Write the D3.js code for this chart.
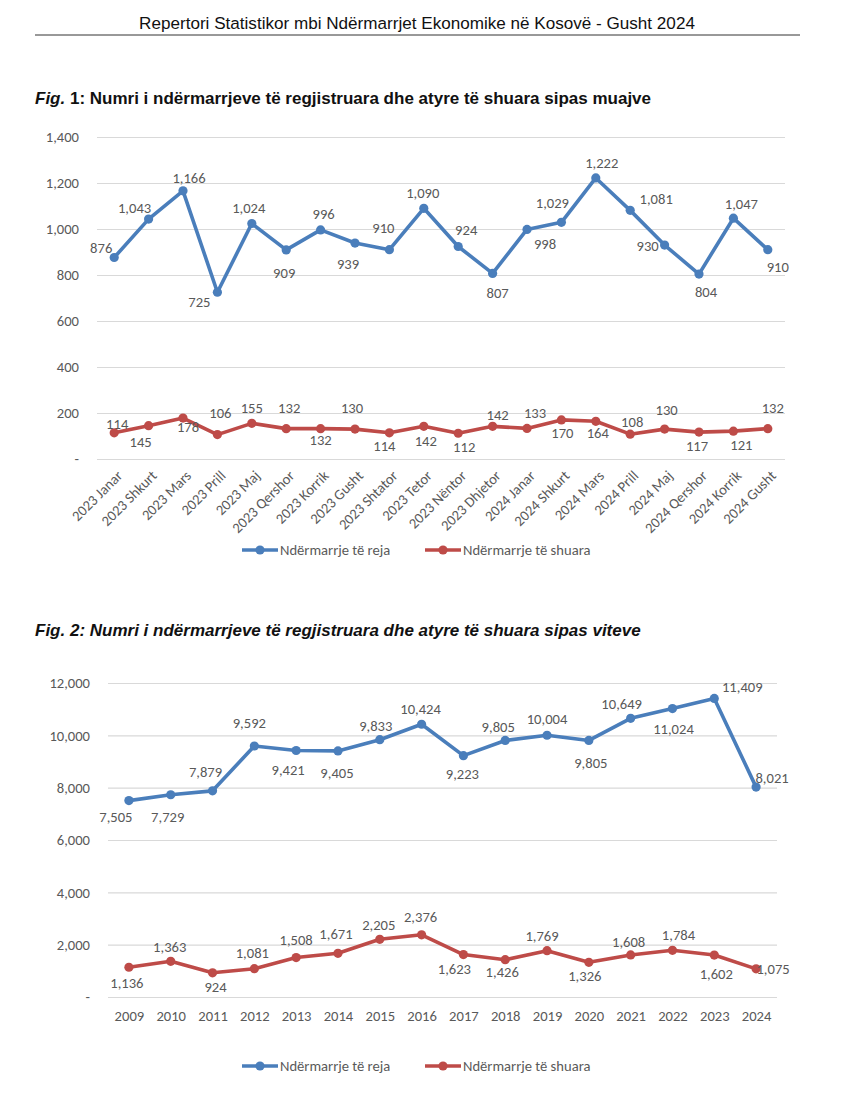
<!DOCTYPE html>
<html>
<head>
<meta charset="utf-8">
<script src="https://cdn.jsdelivr.net/npm/d3@7"></script>
<style>
  html, body { margin: 0; padding: 0; background: #fff; }
  svg { display: block; }
</style>
</head>
<body>
<svg id="chart" width="850" height="1114"></svg>
<script>
// ---------- DATA ----------
const months = ["2023 Janar","2023 Shkurt","2023 Mars","2023 Prill","2023 Maj","2023 Qershor","2023 Korrik","2023 Gusht","2023 Shtator","2023 Tetor","2023 Nëntor","2023 Dhjetor","2024 Janar","2024 Shkurt","2024 Mars","2024 Prill","2024 Maj","2024 Qershor","2024 Korrik","2024 Gusht"];
const newMonthly = [876,1043,1166,725,1024,909,996,939,910,1090,924,807,998,1029,1222,1081,930,804,1047,910];
const closedMonthly = [114,145,178,106,155,132,132,130,114,142,112,142,133,170,164,108,130,117,121,132];
const monthlyTicks = [0,200,400,600,800,1000,1200,1400];

const years = ["2009","2010","2011","2012","2013","2014","2015","2016","2017","2018","2019","2020","2021","2022","2023","2024"];
const newYearly = [7505,7729,7879,9592,9421,9405,9833,10424,9223,9805,10004,9805,10649,11024,11409,8021];
const closedYearly = [1136,1363,924,1081,1508,1671,2205,2376,1623,1426,1769,1326,1608,1784,1602,1075];
const yearlyTicks = [0,2000,4000,6000,8000,10000,12000];

const seriesNames = ["Ndërmarrje të reja","Ndërmarrje të shuara"];
const headerText = "Repertori Statistikor mbi Ndërmarrjet Ekonomike në Kosovë - Gusht 2024";
const fig1Title = ["Fig.", " 1: Numri i ndërmarrjeve të regjistruara dhe atyre të shuara sipas muajve"];
const fig2Title = "Fig. 2: Numri i ndërmarrjeve të regjistruara dhe atyre të shuara sipas viteve";

// ---------- LAYOUT (label offsets relative to each point) ----------
const offNew1 = [[-13,-10],[-14,-11],[6,-13],[-18,10],[-3,-16],[-2,23],[3,-16],[-7,21],[-6,-22],[-1,-15],[8,-17],[5,19],[18,14],[-9,-19],[6,-15],[26,-11],[-17,1],[7,18],[8,-14],[10,17]];
const offClosed1 = [[3,-9],[-8,16],[5,9],[3,-22],[0,-15],[3,-21],[0,11],[-3,-21],[-5,13],[2,15],[6,14],[5,-11],[8,-16],[1,13],[2,12],[2,-12],[2,-19],[-2,14],[8,14],[5,-21]];
const offNew2 = [[-13,16],[-3,22],[-7,-19],[-5,-23],[-8,19],[-1,22],[-4,-14],[-1,-15],[-1,18],[-7,-14],[0,-16],[2,22],[-9,-14],[1,20],[28,-12],[16,-9]];
const offClosed2 = [[-2,16],[-1,-14],[3,14],[-2,-16],[0,-18],[-2,-19],[-1,-14],[-1,-18],[-9,14],[-3,12],[-5,-15],[-4,14],[-2,-13],[6,-15],[2,19],[17,0]];

const BLUE = "#4a7ebb", RED = "#be4b48", GRID = "#d9d9d9", TXT = "#595959";
const FONT = "Carlito, Lato, 'Open Sans', sans-serif";
const FS = 14.6;
const fmt = v => v === 0 ? "-" : d3.format(",")(v);

const svg = d3.select("#chart");

// Header
svg.append("text").attr("x", 417).attr("y", 29).attr("text-anchor", "middle")
  .attr("font-family", "'Liberation Sans', Arial, sans-serif").attr("font-size", 17.1).attr("fill", "#111")
  .text(headerText);
svg.append("line").attr("x1", 35).attr("x2", 800).attr("y1", 35).attr("y2", 35)
  .attr("stroke", "#333").attr("stroke-width", 1);

// Fig 1 title
const t1 = svg.append("text").attr("x", 35).attr("y", 104)
  .attr("font-family", "'Liberation Sans', Arial, sans-serif").attr("font-size", 17)
  .attr("font-weight", "bold").attr("fill", "#111");
t1.append("tspan").attr("font-style", "italic").text(fig1Title[0]);
t1.append("tspan").text(fig1Title[1]);

// Fig 2 title
svg.append("text").attr("x", 35).attr("y", 636)
  .attr("font-family", "'Liberation Sans', Arial, sans-serif").attr("font-size", 17)
  .attr("font-weight", "bold").attr("font-style", "italic").attr("fill", "#111")
  .text(fig2Title);

function drawChart(cfg) {
  const g = svg.append("g");
  const x = d3.scalePoint().domain(cfg.cats).range(cfg.xRange).padding(0.5);
  const y = d3.scaleLinear().domain(cfg.yDomain).range(cfg.yRange);

  // gridlines + y labels
  const yAxis = d3.axisLeft(y).tickValues(cfg.ticks).tickFormat(fmt)
    .tickSize(-(cfg.xRange[1] - cfg.xRange[0])).tickPadding(cfg.yPad);
  const ya = g.append("g").attr("transform", `translate(${cfg.xRange[0]},0)`).call(yAxis);
  ya.select(".domain").remove();
  ya.selectAll(".tick line").attr("stroke", GRID).attr("stroke-width", 1.2);
  ya.selectAll(".tick text").attr("fill", TXT).attr("font-family", FONT).attr("font-size", FS);

  // x labels
  const xAxis = d3.axisBottom(x).tickSize(0).tickPadding(0);
  const xa = g.append("g").attr("transform", `translate(0,${cfg.yRange[0]})`).call(xAxis);
  xa.select(".domain").remove();
  xa.selectAll(".tick text").attr("fill", TXT).attr("font-family", FONT).attr("font-size", FS);
  if (cfg.rotate) {
    xa.selectAll(".tick text")
      .attr("text-anchor", "end").attr("dy", "0.35em")
      .attr("transform", "translate(5,14) rotate(-45)").attr("y", 0).attr("x", 0);
  } else {
    xa.selectAll(".tick text").attr("y", 19).attr("dy", "0.35em");
  }

  const series = [
    {vals: cfg.s1, color: BLUE, offs: cfg.o1},
    {vals: cfg.s2, color: RED, offs: cfg.o2}
  ];
  const line = d3.line().x((d, i) => x(cfg.cats[i])).y(d => y(d));
  series.forEach(s => {
    g.append("path").datum(s.vals).attr("d", line).attr("fill", "none")
      .attr("stroke", s.color).attr("stroke-width", 3.6)
      .attr("stroke-linejoin", "round").attr("stroke-linecap", "round");
    g.selectAll(null).data(s.vals).join("circle")
      .attr("cx", (d, i) => x(cfg.cats[i])).attr("cy", d => y(d)).attr("r", 4.6)
      .attr("fill", s.color);
  });
  series.forEach(s => {
    g.selectAll(null).data(s.vals).join("text")
      .attr("x", (d, i) => x(cfg.cats[i]) + s.offs[i][0])
      .attr("y", (d, i) => y(d) + s.offs[i][1])
      .attr("dy", "0.35em").attr("text-anchor", "middle")
      .attr("font-family", FONT).attr("font-size", FS).attr("fill", TXT)
      .text(d => fmt(d));
  });

  // legend
  const lg = g.append("g").attr("transform", `translate(0,${cfg.legendY})`);
  [[242, BLUE], [425, RED]].forEach((p, i) => {
    lg.append("line").attr("x1", p[0]).attr("x2", p[0] + 36).attr("y1", 0).attr("y2", 0)
      .attr("stroke", p[1]).attr("stroke-width", 3.6);
    lg.append("circle").attr("cx", p[0] + 18).attr("cy", 0).attr("r", 4.6).attr("fill", p[1]);
    lg.append("text").attr("x", p[0] + 38).attr("y", 0).attr("dy", "0.35em")
      .attr("font-family", FONT).attr("font-size", FS).attr("fill", TXT)
      .text(seriesNames[i]);
  });
}

drawChart({
  cats: months, s1: newMonthly, s2: closedMonthly, o1: offNew1, o2: offClosed1,
  ticks: monthlyTicks, yDomain: [0, 1400], yRange: [459, 137], xRange: [97, 785],
  yPad: 18, rotate: true, legendY: 550
});
drawChart({
  cats: years, s1: newYearly, s2: closedYearly, o1: offNew2, o2: offClosed2,
  ticks: yearlyTicks, yDomain: [0, 12000], yRange: [997, 683], xRange: [108, 777],
  yPad: 18, rotate: false, legendY: 1066
});
</script>
</body>
</html>
